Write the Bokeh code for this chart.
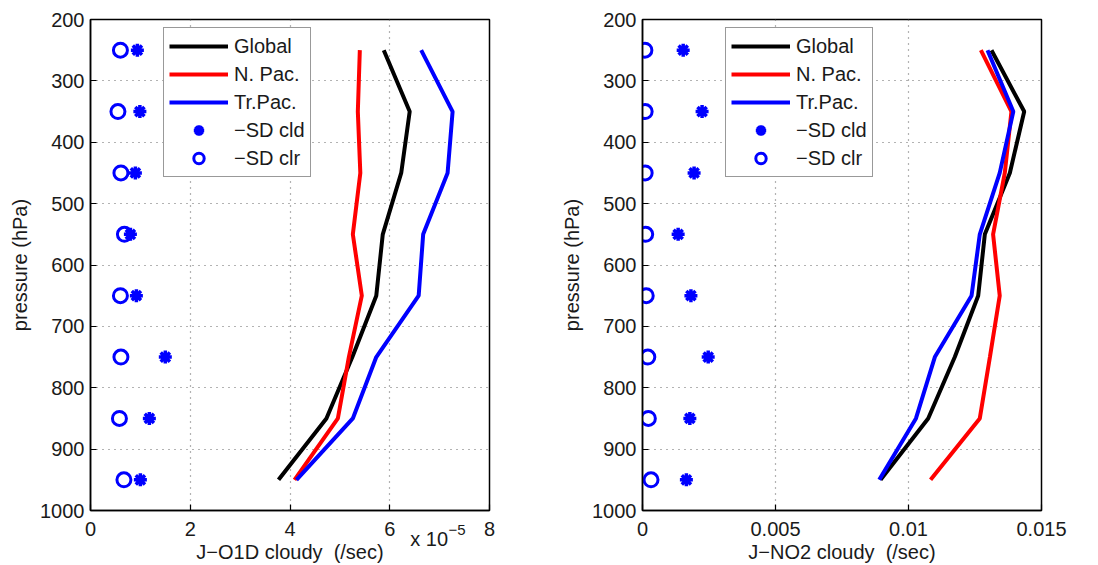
from bokeh.plotting import figure
from bokeh.layouts import row
from bokeh.models import Range1d, FixedTicker, Legend, LegendItem, Label
from bokeh.embed import file_html
from bokeh.resources import INLINE

# ---------------- data ----------------
pressure = [250, 350, 450, 550, 650, 750, 850, 950]
pressure_ticks = [200, 300, 400, 500, 600, 700, 800, 900, 1000]

# J-O1D cloudy (units of 1e-5 /sec)
o1d_global = [5.88, 6.40, 6.23, 5.86, 5.73, 5.25, 4.73, 3.77]
o1d_npac = [5.40, 5.36, 5.41, 5.26, 5.44, 5.18, 4.96, 4.09]
o1d_trpac = [6.63, 7.26, 7.16, 6.67, 6.58, 5.73, 5.26, 4.13]
o1d_sd_cld = [0.94, 0.99, 0.90, 0.80, 0.92, 1.50, 1.18, 1.00]
o1d_sd_clr = [0.60, 0.55, 0.61, 0.68, 0.60, 0.61, 0.58, 0.67]
o1d_ticks = [0, 2, 4, 6, 8]

# J-NO2 cloudy (/sec)
no2_global = [0.01312, 0.01435, 0.01381, 0.01287, 0.01262, 0.01174, 0.01074, 0.00895]
no2_npac = [0.01272, 0.01387, 0.01362, 0.01318, 0.01343, 0.01306, 0.01268, 0.01083]
no2_trpac = [0.01297, 0.01394, 0.01343, 0.01268, 0.01237, 0.01099, 0.01028, 0.00890]
no2_sd_cld = [0.00153, 0.00224, 0.00194, 0.00134, 0.00182, 0.00247, 0.00178, 0.00165]
no2_sd_clr = [0.00009, 0.00010, 0.00010, 0.00012, 0.00014, 0.00020, 0.00022, 0.00032]
no2_ticks = [0, 0.005, 0.01, 0.015]
no2_tick_labels = ["0", "0.005", "0.01", "0.015"]

series_names = ["Global", "N. Pac.", "Tr.Pac."]
series_colors = ["#000000", "#ff0000", "#0000ff"]
sd_names = ["\u2212SD cld", "\u2212SD clr"]

FONT = "Liberation Sans"
TXT = "#1a1a1a"


def style_axis(ax, ticker):
    ax.ticker = ticker
    ax.major_tick_in = 6
    ax.major_tick_out = 0
    ax.minor_tick_line_color = None
    ax.major_tick_line_color = "black"
    ax.major_tick_line_width = 1.2
    ax.axis_line_color = "black"
    ax.axis_line_width = 1.5
    ax.major_label_text_font = FONT
    ax.major_label_text_color = TXT
    ax.major_label_text_font_size = "20px"
    ax.axis_label_text_font = FONT
    ax.axis_label_text_color = TXT
    ax.axis_label_text_font_style = "normal"
    ax.axis_label_text_font_size = "20px"


def make_panel(lines, sd_cld, sd_clr, xmax, xticks, xlabel, border_left, border_right, legend_x, overrides=None):
    p = figure(frame_width=399, frame_height=491,
               x_range=Range1d(0, xmax), y_range=Range1d(1000, 200),
               output_backend="svg", toolbar_location=None,
               min_border_left=border_left, min_border_right=border_right,
               min_border_top=19, min_border_bottom=54,
               background_fill_color="white", border_fill_color="white",
               outline_line_color="black", outline_line_width=1.5)
    xt = FixedTicker(ticks=xticks)
    yt = FixedTicker(ticks=pressure_ticks)
    style_axis(p.xaxis[0], xt)
    style_axis(p.yaxis[0], yt)
    p.xaxis[0].axis_label = xlabel
    p.xaxis[0].major_label_standoff = 11
    p.xaxis[0].axis_label_standoff = 2
    p.yaxis[0].axis_label = "pressure (hPa)"
    p.yaxis[0].major_label_standoff = 6
    p.yaxis[0].axis_label_standoff = 6
    if overrides:
        p.xaxis[0].major_label_overrides = overrides

    for g in (p.xgrid[0], p.ygrid[0]):
        g.grid_line_color = "#666666"
        g.grid_line_dash = "1 5"
        g.grid_line_width = 1.2
    p.xgrid[0].ticker = xt
    p.ygrid[0].ticker = yt

    items = []
    for vals, name, col in zip(lines, series_names, series_colors):
        r = p.line(vals, pressure, line_color=col, line_width=4)
        items.append(LegendItem(label=name, renderers=[r]))
    r1 = p.scatter(sd_cld, pressure, marker="asterisk", size=13, line_color="#0000ff", line_width=3.5)
    items.append(LegendItem(label=sd_names[0], renderers=[r1]))
    r2 = p.scatter(sd_clr, pressure, marker="circle", size=14, line_color="#0000ff",
                   fill_color=None, line_width=3)
    items.append(LegendItem(label=sd_names[1], renderers=[r2]))

    leg = Legend(items=items, location=(legend_x, 333))
    leg.label_text_font = FONT
    leg.label_text_font_size = "20px"
    leg.label_text_color = TXT
    leg.glyph_width = 59
    leg.glyph_height = 26
    leg.label_height = 20
    leg.label_standoff = 6
    leg.spacing = 2
    leg.padding = 5
    leg.margin = 0
    leg.border_line_color = "#333333"
    leg.border_line_width = 1.2
    leg.background_fill_color = "white"
    leg.background_fill_alpha = 1.0
    p.add_layout(leg)
    return p


p1 = make_panel([o1d_global, o1d_npac, o1d_trpac], o1d_sd_cld, o1d_sd_clr, 8, o1d_ticks,
                "J\u2212O1D cloudy\u00a0 (/sec)", 90, 59, 73)
p1.add_layout(Label(x=6.41, y=1029, text="x 10", text_font=FONT, text_font_size="20px",
                    text_color=TXT, text_baseline="top", text_align="left"), "below")
p1.add_layout(Label(x=7.18, y=1023, text="\u22125", text_font=FONT, text_font_size="15px",
                    text_color=TXT, text_baseline="top", text_align="left"), "below")

overrides = {t: s for t, s in zip(no2_ticks, no2_tick_labels)}
p2 = make_panel([no2_global, no2_npac, no2_trpac], no2_sd_cld, no2_sd_clr, 0.015, no2_ticks,
                "J\u2212NO2 cloudy\u00a0 (/sec)", 94, 45, 83, overrides=overrides)

layout = row(p1, p2, spacing=0)

open("out.html", "w").write(file_html(layout, INLINE))
